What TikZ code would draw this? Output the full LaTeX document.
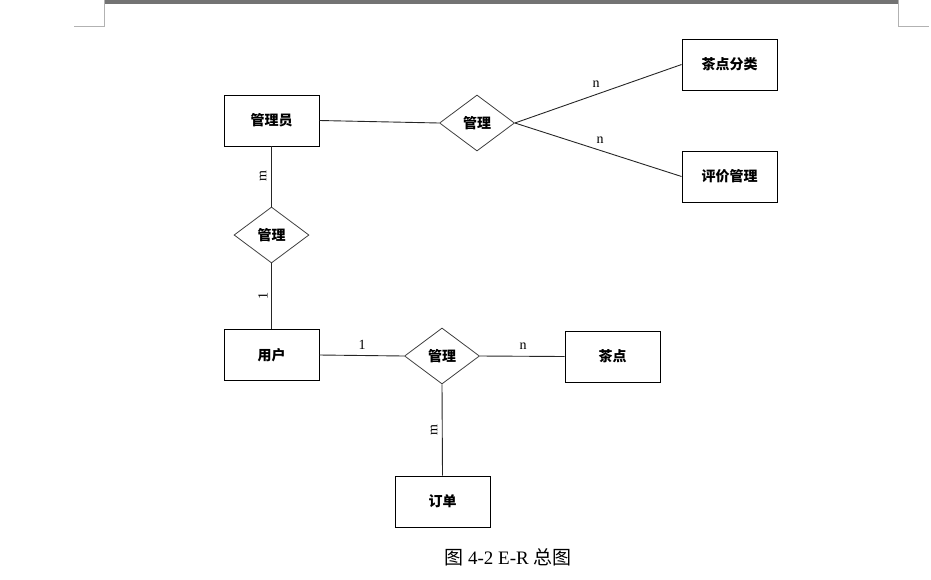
\documentclass[tikz,border=0pt]{standalone}
\usepackage{fontspec}
\setmainfont{Liberation Serif}
\newfontfamily\cjk{Noto Sans CJK SC}
\usetikzlibrary{shapes.geometric}
\begin{document}
\begin{tikzpicture}[x=1pt,y=-1pt,
  ent/.style={draw=black,line width=0.9pt,minimum width=95pt,minimum height=51pt,inner sep=0pt,font=\cjk\bfseries\fontsize{14}{14}\selectfont},
  rel/.style={draw=black!75,line width=0.8pt,diamond,aspect=1.36,minimum width=75pt,minimum height=56pt,inner sep=0pt,font=\cjk\bfseries\fontsize{14}{14}\selectfont},
  conn/.style={draw=black!85,line width=0.9pt},
  card/.style={font=\fontsize{14}{14}\selectfont},
  pagemark/.style={draw=black!30,line width=0.8pt}]
\useasboundingbox (0,0) rectangle (931,579);
% page marks
\draw[black!55,line width=2.4pt] (105,1.3) -- (898,1.3);
\draw[black!55,line width=0.8pt] (105,3.8) -- (898,3.8);
\draw[pagemark] (104.5,0) -- (104.5,26) -- (74,26);
\draw[pagemark] (898,0) -- (898,26) -- (929,26);
% entities
\node[ent] (gly) at (271.5,120.5) {管理员};
\node[ent] (cdfl) at (729.5,64.5) {茶点分类};
\node[ent] (pjgl) at (729.5,176.5) {评价管理};
\node[ent] (yh) at (271.5,355) {用户};
\node[ent] (cd) at (612.5,356.5) {茶点};
\node[ent] (dd) at (442.5,501.5) {订单};
% relations
\node[rel] (r1) at (477,123) {管理};
\node[rel] (r2) at (271.5,235) {管理};
\node[rel] (r3) at (442,356) {管理};
% connectors
\draw[conn] (gly.east) -- (r1.west);
\draw[conn] (r1.east) -- (cdfl.west);
\draw[conn] (r1.east) -- (pjgl.west);
\draw[conn] (gly.south) -- (r2.north);
\draw[conn] (r2.south) -- (yh.north);
\draw[conn] (yh.east) -- (r3.west);
\draw[conn] (r3.east) -- (cd.west);
\draw[conn] (r3.south) -- (dd.north);
% cardinalities
\node[card] (c1) at (596,84) {n};
\node[card] (c2) at (600,140) {n};
\node[card,rotate=90] (c3) at (263,176) {m};
\node[card,rotate=90] (c4) at (263,296) {1};
\node[card] (c5) at (362,345) {1};
\node[card] (c6) at (523,346) {n};
\node[card,rotate=90] (c7) at (434,430) {m};
% caption
\node[font=\fontsize{19}{19}\selectfont] (cap) at (508,557) {{\cjk 图} 4-2 E-R {\cjk 总图}};
\end{tikzpicture}
\end{document}
